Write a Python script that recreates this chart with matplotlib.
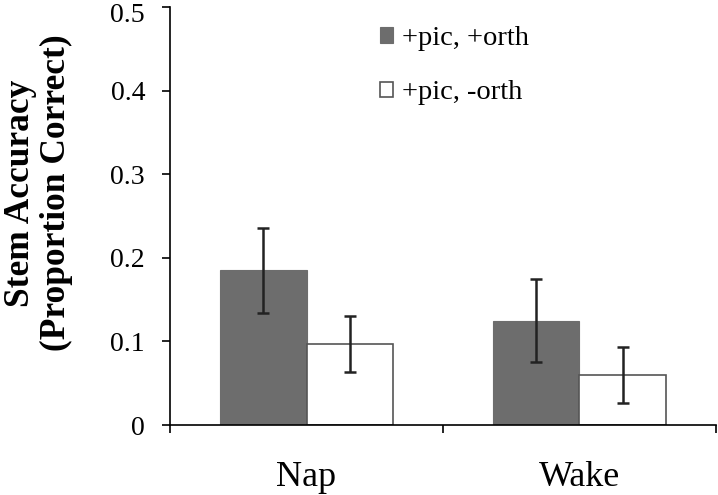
import numpy as np
import matplotlib
matplotlib.use('Agg')
import matplotlib.pyplot as plt
from matplotlib.transforms import ScaledTranslation

# data
groups = ['Nap', 'Wake']
series = ['+pic, +orth', '+pic, -orth']
acc_orth = [0.185, 0.125]
acc_noorth = [0.097, 0.060]
err_orth = [0.051, 0.050]
err_noorth = [0.0335, 0.0335]

plt.rcParams['font.family'] = 'Liberation Serif'

fig = plt.figure(figsize=(7.18, 4.95), dpi=100)
ax = fig.add_axes([0.2368, 0.1414, 0.7604, 0.8439])

x = np.arange(len(groups))
w = 0.318

ax.bar(x - w/2, acc_orth, w, color='#6d6d6d', edgecolor='#6d6d6d', linewidth=0.8, label=series[0])
ax.bar(x + w/2, acc_noorth, w, color='white', edgecolor='#555555', linewidth=1.2, label=series[1])
ax.errorbar(x - w/2, acc_orth, yerr=err_orth, fmt='none', ecolor='#222222', elinewidth=1.8, capsize=4.5, capthick=1.8)
ax.errorbar(x + w/2, acc_noorth, yerr=err_noorth, fmt='none', ecolor='#222222', elinewidth=1.8, capsize=4.5, capthick=1.8)

ax.set_xlim(-0.5, 1.5)
ax.set_ylim(0, 0.5)
ax.set_yticks([0, 0.1, 0.2, 0.3, 0.4, 0.5])
ax.set_yticklabels(['0', '0.1', '0.2', '0.3', '0.4', '0.5'], fontsize=20)
ax.set_xticks(x)
ax.set_xticklabels(groups, fontsize=26)
ax.tick_params(axis='x', length=0, pad=26)
ax.set_xticks([-0.5, 0.5, 1.5], minor=True)
ax.tick_params(axis='x', which='minor', length=6, width=1.2, direction='out')
ax.tick_params(axis='y', length=6, width=1.2, direction='out', pad=12)

# top label sits a little lower, like the original
top = ax.get_yticklabels()[-1]
top.set_transform(top.get_transform() + ScaledTranslation(0, -0.05, fig.dpi_scale_trans))

for s in ['top', 'right']:
    ax.spines[s].set_visible(False)
ax.spines['left'].set_linewidth(1.2)
ax.spines['bottom'].set_linewidth(1.2)

fig.text(0.028, 0.61, 'Stem Accuracy', rotation=90, fontsize=25.5, fontweight='bold', ha='center', va='center')
fig.text(0.079, 0.61, '(Proportion Correct)', rotation=90, fontsize=25.5, fontweight='bold', ha='center', va='center')

ax.legend(loc='upper left', bbox_to_anchor=(0.354, 0.996), frameon=False, fontsize=20.5,
          handlelength=0.45, handleheight=0.45, handletextpad=0.3, labelspacing=1.03, borderpad=0.1)

fig.savefig('out.png', dpi=100)
